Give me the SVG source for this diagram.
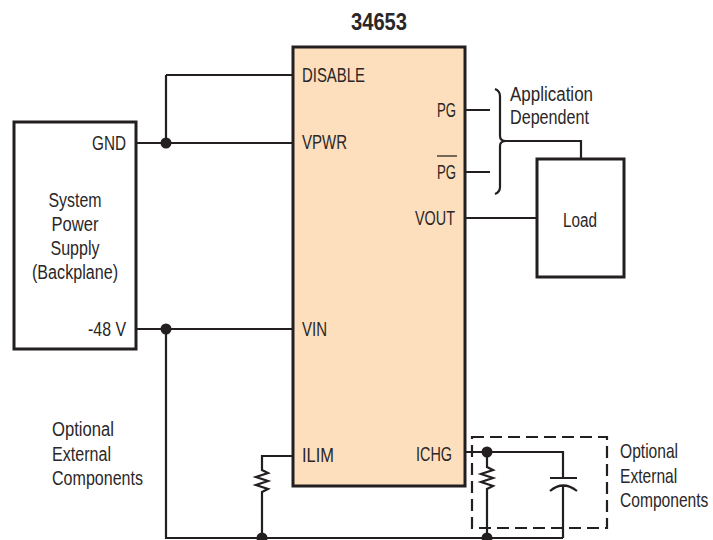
<svg xmlns="http://www.w3.org/2000/svg" width="713" height="540" viewBox="0 0 713 540">
<style>
text{font-family:"Liberation Sans",Arial,sans-serif;font-size:20px;fill:#2b2728}
.w{fill:none;stroke:#231f20;stroke-width:2.2}
.box{fill:#fff;stroke:#231f20;stroke-width:3}
.dot{fill:#231f20}
.mid{text-anchor:middle}
.end{text-anchor:end}
</style>
<rect width="713" height="540" fill="#fff"/>
<g id="title"><text x="379" y="30" class="mid" style="font-weight:bold;font-size:24px" textLength="56" lengthAdjust="spacingAndGlyphs">34653</text></g>
<g id="chip">
<rect x="293" y="47" width="172" height="439" fill="#fddfbd" stroke="#231f20" stroke-width="3"/>
<text x="302" y="82" textLength="63" lengthAdjust="spacingAndGlyphs">DISABLE</text>
<text x="302" y="149" textLength="45" lengthAdjust="spacingAndGlyphs">VPWR</text>
<text x="456" y="117" class="end" textLength="19" lengthAdjust="spacingAndGlyphs">PG</text>
<text x="456" y="179" class="end" textLength="19" lengthAdjust="spacingAndGlyphs">PG</text>
<line x1="437" y1="156" x2="457" y2="156" stroke="#2b2728" stroke-width="1.3"/>
<text x="455" y="225" class="end" textLength="40" lengthAdjust="spacingAndGlyphs">VOUT</text>
<text x="302" y="336" textLength="25" lengthAdjust="spacingAndGlyphs">VIN</text>
<text x="302" y="462" textLength="32" lengthAdjust="spacingAndGlyphs">ILIM</text>
<text x="452" y="461" class="end" textLength="36" lengthAdjust="spacingAndGlyphs">ICHG</text>
</g>
<g id="supply">
<rect x="14" y="122" width="122" height="227" class="box"/>
<text x="126" y="150" class="end" textLength="34" lengthAdjust="spacingAndGlyphs">GND</text>
<text x="75" y="207" class="mid" textLength="53" lengthAdjust="spacingAndGlyphs">System</text>
<text x="75" y="231" class="mid" textLength="47" lengthAdjust="spacingAndGlyphs">Power</text>
<text x="75" y="255" class="mid" textLength="49" lengthAdjust="spacingAndGlyphs">Supply</text>
<text x="75" y="279" class="mid" textLength="86" lengthAdjust="spacingAndGlyphs">(Backplane)</text>
<text x="126" y="336" class="end" textLength="38" lengthAdjust="spacingAndGlyphs">-48 V</text>
</g>
<g id="load">
<rect x="537" y="159" width="87" height="118" class="box"/>
<text x="580" y="227" class="mid" textLength="34" lengthAdjust="spacingAndGlyphs">Load</text>
</g>
<g id="app-note">
<text x="510" y="101" textLength="83" lengthAdjust="spacingAndGlyphs">Application</text>
<text x="510" y="124" textLength="79" lengthAdjust="spacingAndGlyphs">Dependent</text>
</g>
<g id="opt-left">
<text x="52" y="436" textLength="62" lengthAdjust="spacingAndGlyphs">Optional</text>
<text x="52" y="461" textLength="59" lengthAdjust="spacingAndGlyphs">External</text>
<text x="52" y="485" textLength="91" lengthAdjust="spacingAndGlyphs">Components</text>
</g>
<g id="opt-right">
<rect x="472" y="437" width="135" height="91" fill="none" stroke="#231f20" stroke-width="2.2" stroke-dasharray="12,6"/>
<g transform="translate(620,0) scale(0.78,1)">
<text x="0" y="458">Optional</text>
<text x="0" y="483">External</text>
<text x="0" y="507">Components</text>
</g>
</g>
<g id="connectors">
<path class="w" d="M166,75 H293 M166,75 V143 M136,143 H293"/>
<path class="w" d="M136,329 H293 M166,329 V538 H563"/>
<path class="w" d="M465,110 H490 M465,172 H490 M465,218 H537"/>
<path class="w" d="M495,89 Q500,91 500,96 V136 Q500,141 506,141 Q500,141 500,146 V187 Q500,192 495,194"/>
<path class="w" d="M506,141 H581 V159"/>
<path class="w" d="M293,456 H262 V470 L268,473 L256,477 L268,481 L256,485 L268,489 L262,492 V538"/>
<path class="w" d="M465,452 H563 V478 M550,478 H577 M550,491 Q563,480 577,491 M563,485 V538"/>
<path class="w" d="M487,452 V467 L493,470 L481,474 L493,478 L481,482 L493,486 L487,489 V538"/>
<circle class="dot" cx="166" cy="143" r="5.5"/>
<circle class="dot" cx="166" cy="329" r="5.5"/>
<circle class="dot" cx="487" cy="452" r="5.5"/>
<circle class="dot" cx="262" cy="538" r="5.5"/>
<circle class="dot" cx="487" cy="538" r="5.5"/>
</g>
</svg>
